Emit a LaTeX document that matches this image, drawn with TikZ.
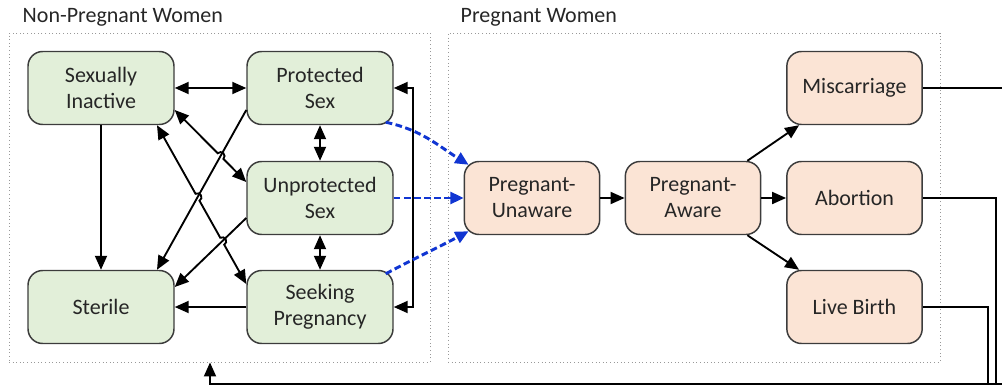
\documentclass[tikz,border=0pt]{standalone}
\usepackage{fontspec}
\setmainfont{Carlito}
\usetikzlibrary{arrows.meta,calc}
\definecolor{greenbox}{HTML}{E2EFD9}
\definecolor{orangebox}{HTML}{FBE4D5}
\definecolor{boxline}{HTML}{3C3C3C}
\definecolor{flowblue}{HTML}{1035D2}

\begin{document}
\begin{tikzpicture}[x=0.75pt,y=-0.75pt,
 state/.style={draw=boxline,line width=1.1pt,rounded corners=11pt,minimum width=109.5pt,minimum height=54.75pt,inner sep=0pt,align=center,text=black!85,font=\fontsize{16.5}{19.5}\selectfont},
 nonpreg/.style={state,fill=greenbox},
 preg/.style={state,fill=orangebox,minimum width=101.5pt},
 group/.style={draw=gray!80,dotted,line width=0.7pt,inner sep=0pt},
 title/.style={anchor=base west,text=black!85,font=\fontsize{16.5}{19.5}\selectfont},
 link/.style={line width=1.4pt,-{Triangle[length=10.5pt,width=9pt]}},
 twoway/.style={link,{Triangle[length=10.5pt,width=9pt]}-{Triangle[length=10.5pt,width=9pt]}},
 flow/.style={flowblue,line width=2.2pt,dash pattern=on 5pt off 2.6pt,-{Triangle[length=10pt,width=9pt]}}
]
 \useasboundingbox (0,0) rectangle (1002,392);

 \node[group,minimum width=315.75pt,minimum height=246.75pt] (nonpregbox) at (219.5,197.5) {};
 \node[group,minimum width=369pt,minimum height=246.75pt] (pregbox) at (694,197.5) {};
 \node[title] (nonpregtitle) at (18,23) {Non-Pregnant Women};
 \node[title] (pregtitle) at (456,23) {Pregnant Women};

 \node[nonpreg] (SI) at (101,88) {Sexually\\Inactive};
 \node[nonpreg] (PS) at (320,88) {Protected\\Sex};
 \node[nonpreg] (US) at (320,198) {Unprotected\\Sex};
 \node[nonpreg] (ST) at (101,307) {Sterile};
 \node[nonpreg] (SP) at (320,307) {Seeking\\Pregnancy};
 \node[preg] (PU) at (532,198) {Pregnant-\\Unaware};
 \node[preg] (PA) at (693,198) {Pregnant-\\Aware};
 \node[preg] (MC) at (854.5,88) {Miscarriage};
 \node[preg] (AB) at (854.5,198) {Abortion};
 \node[preg] (LB) at (854.5,307) {Live Birth};

 \draw[twoway] (SI) -- (PS);
 \draw[link] (SI) -- (ST);
 \draw[twoway] (PS) -- (US);
 \draw[twoway] (US) -- (SP);
 \draw[link] (SP) -- (ST);
 \draw[twoway] (PS.east) -- ++(19,0) |- (SP.east);

 \coordinate (si1) at ($(SI.east)+(0,22)$);
 \coordinate (us1) at ($(US.west)+(0,-16)$);
 \coordinate (si2) at ($(SI.south)+(56,0)$);
 \coordinate (sp1) at ($(SP.west)+(0,-23)$);
 \coordinate (ps1) at ($(PS.west)+(0,22)$);
 \coordinate (st1) at ($(ST.north)+(56,0)$);
 \coordinate (us2) at ($(US.west)+(0,20)$);
 \coordinate (st2) at ($(ST.east)+(0,-20)$);
 \coordinate (x1) at (intersection of si1--us1 and ps1--st1);
 \coordinate (x2) at (intersection of si2--sp1 and ps1--st1);
 \coordinate (x3) at (intersection of si2--sp1 and us2--st2);

 \draw[link] (ps1) -- (st1);
 \draw[link] (us2) -- (st2);
 \draw[twoway] (si1) -- ($(x1)!3pt!(si1)$) arc[start angle=135.4,end angle=-44.6,radius=3pt] -- (us1);
 \draw[twoway] (si2) -- ($(x2)!3pt!(si2)$) arc[start angle=119.5,end angle=-60.5,radius=3pt]
  -- ($(x3)!3pt!(si2)$) arc[start angle=119.5,end angle=-60.5,radius=3pt] -- (sp1);

 \draw[flow] ($(PS.south east)+(-8,-3)$) to[out=-12,in=148] ($(PU.north west)+(5,4)$);
 \draw[flow] (US) -- (PU);
 \draw[flow] ($(SP.north east)+(-8,4)$) to[out=28,in=-152] ($(PU.south west)+(5,-4)$);

 \draw[link] (PU) -- (PA);
 \draw[link] (PA) -- (AB);
 \draw[link] ($(PA.north east)+(-14,0)$) -- ($(MC.south west)+(13,0)$);
 \draw[link] ($(PA.south east)+(-14,0)$) -- ($(LB.north west)+(13,0)$);

 \coordinate (back) at (210,384);
 \draw[link] (MC.east) -- (1005,88) |- (back) -- (back |- nonpregbox.south);
 \draw[line width=1.4pt] (AB.east) -| (996,384);
 \draw[line width=1.4pt] (LB.east) -| (988,384);
\end{tikzpicture}
\end{document}
